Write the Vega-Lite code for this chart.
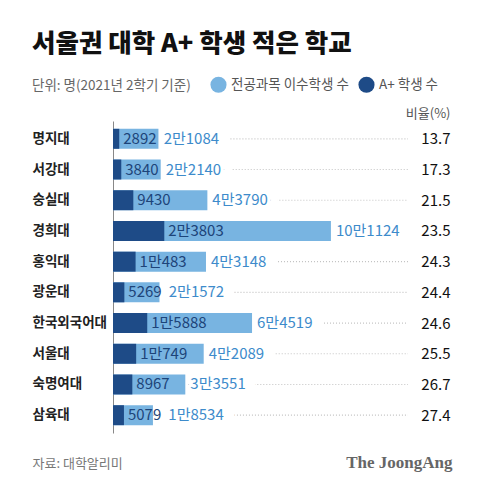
{
  "$schema": "https://vega.github.io/schema/vega-lite/v6.json",
  "width": 337,
  "height": 312,
  "autosize": {"type": "none"},
  "padding": {"left": 113, "top": 121, "right": 30, "bottom": 59},
  "background": "white",
  "config": {
    "view": {"stroke": null},
    "font": "Noto Sans CJK KR",
    "axisX": {
      "domain": false, "ticks": false, "labels": false, "grid": false,
      "titleX": 339, "titleY": 29, "titleAlign": "right", "titleBaseline": "middle",
      "titleFont": "Liberation Serif", "titleFontWeight": "bold", "titleFontSize": 17, "titleColor": "#666"
    }
  },
  "title": {
    "text": "서울권 대학 A+ 학생 적은 학교",
    "subtitle": "단위: 명(2021년 2학기 기준)",
    "anchor": "start",
    "frame": "group",
    "dx": -81,
    "fontSize": 25.5,
    "fontWeight": 900,
    "color": "#111",
    "subtitleFontSize": 13.5,
    "subtitleColor": "#666",
    "subtitlePadding": 21.5,
    "offset": -16
  },
  "data": {
    "values": [
      {"school": "명지대", "total": 21084, "aplus": 2892, "totalLabel": "2만1084", "aplusLabel": "2892", "ratio": "13.7"},
      {"school": "서강대", "total": 22140, "aplus": 3840, "totalLabel": "2만2140", "aplusLabel": "3840", "ratio": "17.3"},
      {"school": "숭실대", "total": 43790, "aplus": 9430, "totalLabel": "4만3790", "aplusLabel": "9430", "ratio": "21.5"},
      {"school": "경희대", "total": 101124, "aplus": 23803, "totalLabel": "10만1124", "aplusLabel": "2만3803", "ratio": "23.5"},
      {"school": "홍익대", "total": 43148, "aplus": 10483, "totalLabel": "4만3148", "aplusLabel": "1만483", "ratio": "24.3"},
      {"school": "광운대", "total": 21572, "aplus": 5269, "totalLabel": "2만1572", "aplusLabel": "5269", "ratio": "24.4"},
      {"school": "한국외국어대", "total": 64519, "aplus": 15888, "totalLabel": "6만4519", "aplusLabel": "1만5888", "ratio": "24.6"},
      {"school": "서울대", "total": 42089, "aplus": 10749, "totalLabel": "4만2089", "aplusLabel": "1만749", "ratio": "25.5"},
      {"school": "숙명여대", "total": 33551, "aplus": 8967, "totalLabel": "3만3551", "aplusLabel": "8967", "ratio": "26.7"},
      {"school": "삼육대", "total": 18534, "aplus": 5079, "totalLabel": "1만8534", "aplusLabel": "5079", "ratio": "27.4"}
    ]
  },
  "transform": [
    {"calculate": "max(datum.total + 2320, datum.aplus + (10 + 8.6 * length(datum.aplusLabel)) * 464)", "as": "labelAt"}
  ],
  "layer": [
    {
      "mark": {"type": "rule", "strokeDash": [1, 2], "color": "#c4c4c4", "strokeWidth": 1.2},
      "encoding": {
        "x": {"field": "total", "type": "quantitative", "scale": {"domain": [0, 156380], "nice": false}, "axis": {"title": "The JoongAng"}},
        "x2": {"datum": 136900},
        "y": {
          "field": "ratio", "type": "nominal", "sort": null,
          "scale": {"type": "point", "padding": 0.58},
          "axis": {
            "orient": "right", "domain": false, "ticks": false, "grid": false,
            "labelAlign": "right", "labelPadding": 0, "labelFontSize": 15, "labelColor": "#111", "labelFontWeight": "normal",
            "title": "비율(%)", "titleAngle": 0, "titleAlign": "right", "titleBaseline": "middle",
            "titleX": 0, "titleY": -8, "titleFontSize": 13, "titleFontWeight": "normal", "titleColor": "#555"
          }
        }
      }
    },
    {
      "mark": {"type": "text", "align": "left", "baseline": "middle", "fontSize": 15, "fill": "white", "stroke": "white", "strokeWidth": 22, "strokeJoin": "round"},
      "encoding": {
        "x": {"field": "labelAt", "type": "quantitative", "scale": {"domain": [0, 156380], "nice": false}, "axis": {"title": "The JoongAng"}},
        "y": {"field": "school", "type": "nominal", "sort": null, "scale": {"type": "point", "padding": 0.58}, "axis": null},
        "text": {"field": "totalLabel"}
      }
    },
    {
      "transform": [{"fold": ["total", "aplus"], "as": ["series", "value"]}],
      "mark": {"type": "bar"},
      "encoding": {
        "x": {
          "field": "value", "type": "quantitative", "stack": null,
          "scale": {"domain": [0, 156380], "nice": false},
          "axis": {"title": "The JoongAng"}
        },
        "y": {
          "field": "school", "type": "nominal", "sort": null,
          "scale": {"type": "band", "paddingInner": 0.35, "paddingOuter": 0.255},
          "axis": {
            "orient": "left", "domain": true, "domainColor": "#888", "domainWidth": 1, "ticks": false, "grid": false,
            "labelAlign": "left", "labelPadding": 81, "labelFontSize": 13.5, "labelFontWeight": "bold", "labelColor": "#222",
            "title": "자료: 대학알리미", "titleAngle": 0, "titleAlign": "left", "titleBaseline": "middle",
            "titleX": -81, "titleY": 342, "titleFontSize": 13, "titleFontWeight": "normal", "titleColor": "#777"
          }
        },
        "color": {
          "field": "series", "type": "nominal",
          "scale": {"domain": ["total", "aplus"], "range": ["#78b4e1", "#1e4b87"]},
          "legend": {
            "orient": "none", "legendX": 97, "legendY": -45, "direction": "horizontal", "title": null,
            "symbolType": "circle", "symbolSize": 260, "symbolStrokeWidth": 0, "labelFontSize": 13.5, "labelColor": "#555",
            "labelOffset": 4, "columnPadding": 9,
            "labelExpr": "datum.label == 'total' ? '전공과목 이수학생 수' : 'A+ 학생 수'"
          }
        }
      }
    },
    {
      "mark": {"type": "text", "align": "left", "baseline": "middle", "dx": 4, "fontSize": 15, "color": "#1d4479"},
      "encoding": {
        "x": {"field": "aplus", "type": "quantitative", "scale": {"domain": [0, 156380], "nice": false}, "axis": {"title": "The JoongAng"}},
        "y": {"field": "school", "type": "nominal", "sort": null, "scale": {"type": "point", "padding": 0.58}, "axis": null},
        "text": {"field": "aplusLabel"}
      }
    },
    {
      "mark": {"type": "text", "align": "left", "baseline": "middle", "fontSize": 15, "color": "#3d8bcb"},
      "encoding": {
        "x": {"field": "labelAt", "type": "quantitative", "scale": {"domain": [0, 156380], "nice": false}, "axis": {"title": "The JoongAng"}},
        "y": {"field": "school", "type": "nominal", "sort": null, "scale": {"type": "point", "padding": 0.58}, "axis": null},
        "text": {"field": "totalLabel"}
      }
    }
  ],
  "resolve": {"scale": {"y": "independent"}, "axis": {"y": "independent"}}
}
